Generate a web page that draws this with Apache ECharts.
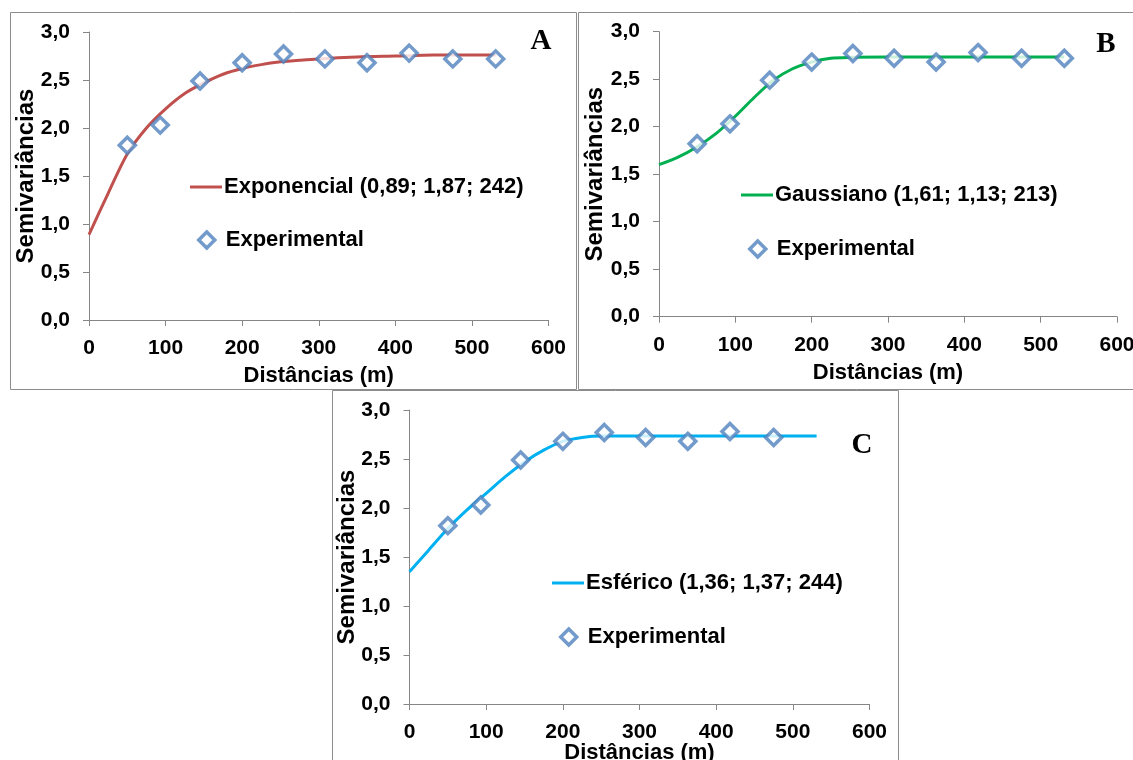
<!DOCTYPE html>
<html>
<head>
<meta charset="utf-8">
<script src="https://cdn.jsdelivr.net/npm/echarts@6/dist/echarts.min.js"></script>
<style>
html,body{margin:0;padding:0;background:#fff;}
#chart{width:1133px;height:760px;}
</style>
</head>
<body>
<div id="chart"></div>
<script>
// ---- data ----
const distances = [50, 93, 145, 200, 254, 308, 363, 418, 475, 531];
const semivariances = [1.82, 2.03, 2.49, 2.68, 2.77, 2.72, 2.68, 2.78, 2.72, 2.72];
const distancesC = [50, 93, 145, 200, 254, 308, 363, 418, 475];
const semivariancesC = [1.82, 2.03, 2.49, 2.68, 2.77, 2.72, 2.68, 2.78, 2.72];

const modelX = [0, 25, 50, 75, 100, 125, 150, 175, 200, 225, 250, 300, 350, 400, 450, 531];
const exponencialY = [0.89, 1.32, 1.73, 2.00, 2.20, 2.36, 2.47, 2.56, 2.62, 2.66, 2.69, 2.72, 2.74, 2.75, 2.76, 2.76];
const gaussianoY  = [1.60, 1.68, 1.79, 1.93, 2.11, 2.31, 2.49, 2.61, 2.68, 2.72, 2.73, 2.735, 2.735, 2.735, 2.735, 2.735];
const esfericoY   = [1.35, 1.57, 1.79, 1.98, 2.15, 2.32, 2.47, 2.59, 2.68, 2.72, 2.735, 2.735, 2.735, 2.735, 2.735, 2.735];

const xTicks = {min: 0, max: 600, interval: 100};
const yTicks = {min: 0, max: 3, interval: 0.5};

const modelNames = ['Exponencial (0,89; 1,87; 242)', 'Gaussiano (1,61; 1,13; 213)', 'Esférico (1,36; 1,37; 244)'];
const expName = 'Experimental';
const panelLetters = ['A', 'B', 'C'];
// --------------------------------------

const FONT = 'Liberation Sans, Arial, sans-serif';
const axisGray = '#868686';
const markerBlue = '#4F81BD';
const lineColors = ['#C0504D', '#00B050', '#00B0F0'];

function pairs(xs, ys) { return xs.map((x, i) => [x, ys[i]]); }

const grids = [
  {left: 89, top: 32, width: 459.5, height: 288, outerBoundsMode: 'none', containLabel: false},
  {left: 659, top: 31.7, width: 458, height: 285, outerBoundsMode: 'none', containLabel: false},
  {left: 409.5, top: 410, width: 460, height: 294, outerBoundsMode: 'none', containLabel: false}
];
const xNameGaps = [45, 45, 38];
const yNameGaps = [51, 52, 50];

function xAxis(i) {
  return {
    gridIndex: i, type: 'value', min: xTicks.min, max: xTicks.max, interval: xTicks.interval,
    name: 'Distâncias (m)', nameLocation: 'middle', nameGap: xNameGaps[i], nameMoveOverlap: false,
    nameTextStyle: {fontFamily: FONT, fontWeight: 'bold', fontSize: 22, color: '#000'},
    axisLine: {show: true, onZero: false, lineStyle: {color: axisGray, width: 1}},
    axisTick: {show: true, length: 6, inside: false, lineStyle: {color: axisGray}},
    axisLabel: {margin: 18, fontFamily: FONT, fontWeight: 'bold', fontSize: 21, color: '#000'},
    splitLine: {show: false}
  };
}
function yAxis(i) {
  return {
    gridIndex: i, type: 'value', min: yTicks.min, max: yTicks.max, interval: yTicks.interval,
    name: 'Semivariâncias', nameLocation: 'middle', nameGap: yNameGaps[i], nameRotate: 90, nameMoveOverlap: false,
    nameTextStyle: {fontFamily: FONT, fontWeight: 'bold', fontSize: 24, color: '#000'},
    axisLine: {show: true, onZero: false, lineStyle: {color: axisGray, width: 1}},
    axisTick: {show: true, length: 6, inside: false, lineStyle: {color: axisGray}},
    axisLabel: {margin: 19, fontFamily: FONT, fontWeight: 'bold', fontSize: 21, color: '#000',
      formatter: v => v.toFixed(1).replace('.', ',')},
    splitLine: {show: false}
  };
}

const expData = [pairs(distances, semivariances), pairs(distances, semivariances), pairs(distancesC, semivariancesC)];
const modelData = [pairs(modelX, exponencialY), pairs(modelX, gaussianoY), pairs(modelX, esfericoY)];

const series = [];
for (let i = 0; i < 3; i++) {
  series.push({
    name: modelNames[i], type: 'line', xAxisIndex: i, yAxisIndex: i,
    data: modelData[i], smooth: 0.3, symbol: 'none',
    lineStyle: {color: lineColors[i], width: 3}, itemStyle: {color: lineColors[i]},
    z: 2, silent: true, animation: false
  });
  series.push({
    name: expName, type: 'scatter', xAxisIndex: i, yAxisIndex: i,
    data: expData[i], symbol: 'diamond', symbolSize: 16,
    itemStyle: {color: '#fff', borderColor: markerBlue, borderWidth: 3.5},
    z: 3, silent: true, animation: false
  });
}

// legend rows: [iconLeft, lineRowCenterY, expRowCenterY]
const legendRows = [
  [190, 187, 240],
  [741, 195, 249],
  [552, 583, 637]
];
const legends = [];
legendRows.forEach((r, i) => {
  legends.push({
    left: r[0] - 5, top: r[1] - 12 - 5, orient: 'vertical', itemWidth: 32, itemHeight: 15,
    selectedMode: false,
    textStyle: {fontFamily: FONT, fontWeight: 'bold', fontSize: 22, color: '#000', lineHeight: 24, padding: [0, 0, 0, -3]},
    data: [{name: modelNames[i], icon: 'path://M0,6 L32,6 L32,9 L0,9 Z', itemStyle: {color: lineColors[i]}}]
  });
  legends.push({
    left: r[0] + 7 - 5, top: r[2] - 12 - 5, orient: 'vertical', itemWidth: 16, itemHeight: 16,
    selectedMode: false,
    textStyle: {fontFamily: FONT, fontWeight: 'bold', fontSize: 22, color: '#000', lineHeight: 24, padding: [0, 0, 0, 6]},
    data: [{name: expName, icon: 'diamond', itemStyle: {color: '#fff', borderColor: markerBlue, borderWidth: 3.5}}]
  });
});

const boxes = [
  {x: 10.5, y: 12.5, width: 566, height: 377},
  {x: 578.5, y: 12.5, width: 570, height: 377},
  {x: 332.5, y: 390.5, width: 566, height: 380}
];
const letterPos = [[541, 42], [1106, 45], [862, 446]];
const graphic = [];
boxes.forEach(b => graphic.push({type: 'rect', shape: b, style: {fill: null, stroke: '#8c8c8c', lineWidth: 1}, silent: true, z: 0}));
letterPos.forEach((p, i) => graphic.push({
  type: 'text', x: p[0], y: p[1], silent: true,
  style: {text: panelLetters[i], font: 'bold 29px "Liberation Serif", "Times New Roman", serif', fill: '#000', align: 'center', verticalAlign: 'middle'}
}));

const chart = echarts.init(document.getElementById('chart'), null, {renderer: 'canvas'});
chart.setOption({
  animation: false,
  backgroundColor: '#fff',
  grid: grids,
  xAxis: [0, 1, 2].map(xAxis),
  yAxis: [0, 1, 2].map(yAxis),
  legend: legends,
  series: series,
  graphic: graphic
});
</script>
</body>
</html>
